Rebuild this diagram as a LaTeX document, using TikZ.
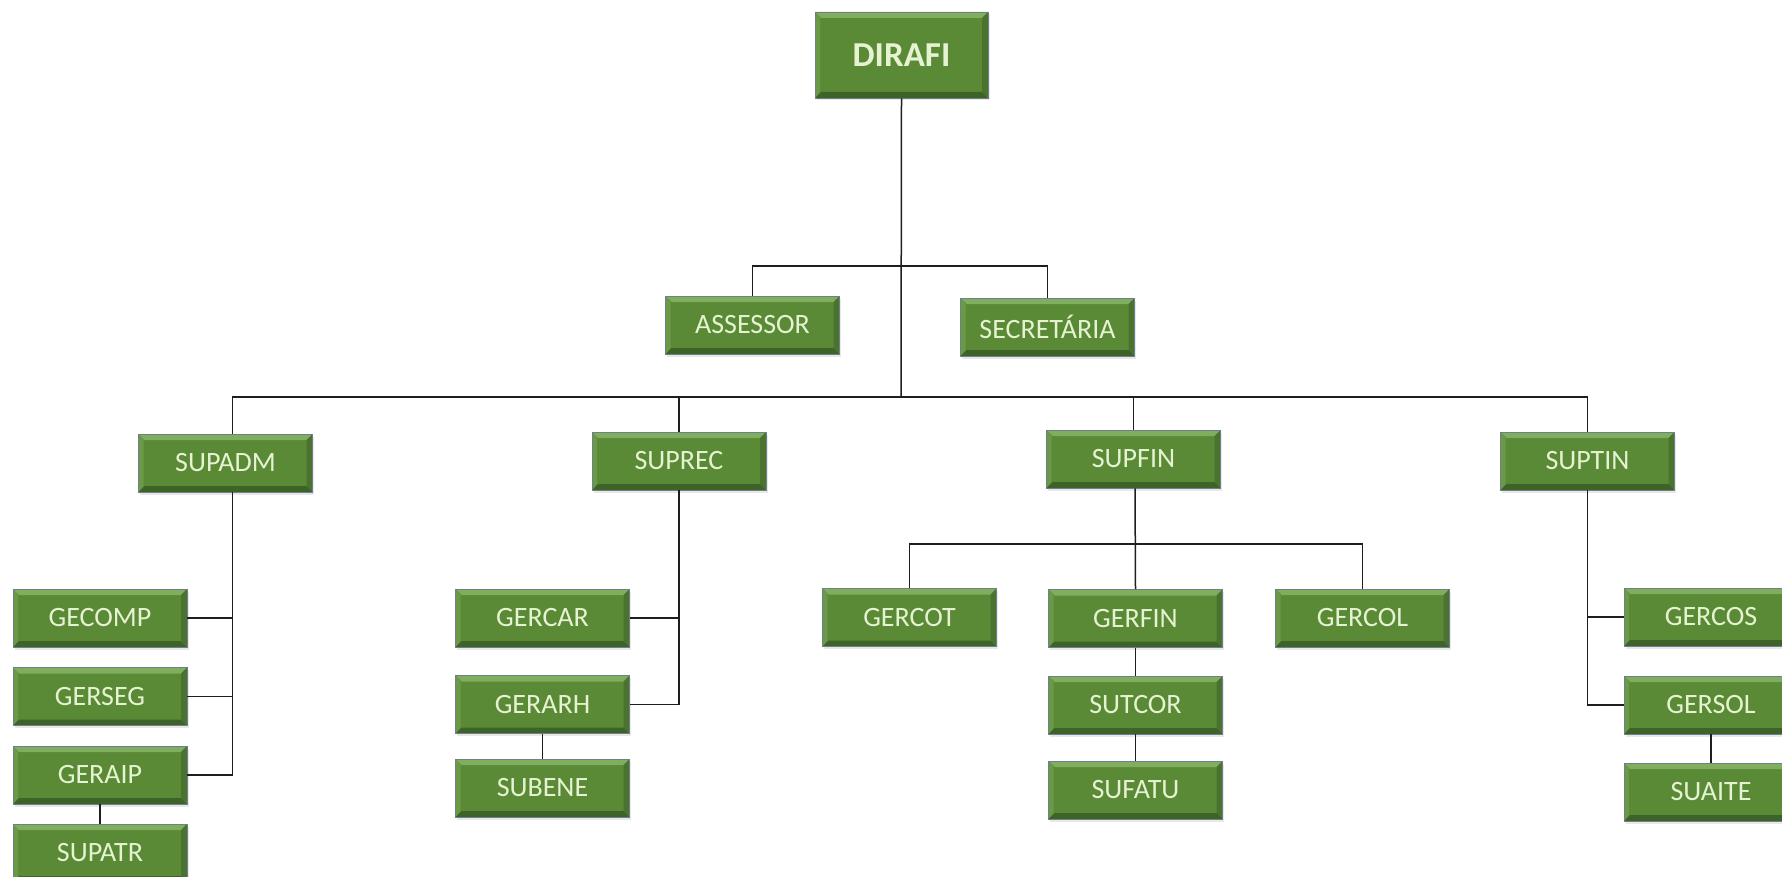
\documentclass[tikz,border=0pt]{standalone}
\usepackage{fontspec}
\setmainfont{Carlito}
\usetikzlibrary{shadows}
\definecolor{boxgreen}{HTML}{5A8A35}
\definecolor{boxtext}{HTML}{E6F3D2}
\definecolor{bvtop}{HTML}{7FAE5E}
\definecolor{bvleft}{HTML}{6A9A48}
\definecolor{bvbot}{HTML}{3E6328}
\definecolor{bvright}{HTML}{4A7330}
\definecolor{boxline}{HTML}{70808A}
\definecolor{conncol}{HTML}{1E1E1E}
\tikzset{
  orgbox/.style={draw=boxline, line width=0.8pt, fill=boxgreen, text=boxtext,
    minimum width=174pt, minimum height=58pt, inner sep=0pt,
    font=\fontsize{28}{30}\selectfont,
    drop shadow={opacity=0.18, shadow xshift=1.5pt, shadow yshift=-2.5pt},
    path picture={
      \fill[bvtop] (path picture bounding box.north west) -- (path picture bounding box.north east)
        -- ([xshift=-6pt,yshift=-6pt]path picture bounding box.north east)
        -- ([xshift=6pt,yshift=-6pt]path picture bounding box.north west) -- cycle;
      \fill[bvbot] (path picture bounding box.south west) -- (path picture bounding box.south east)
        -- ([xshift=-6pt,yshift=6pt]path picture bounding box.south east)
        -- ([xshift=6pt,yshift=6pt]path picture bounding box.south west) -- cycle;
      \fill[bvright] (path picture bounding box.north east) -- (path picture bounding box.south east)
        -- ([xshift=-6pt,yshift=6pt]path picture bounding box.south east)
        -- ([xshift=-6pt,yshift=-6pt]path picture bounding box.north east) -- cycle;
      \fill[bvleft] (path picture bounding box.north west) -- (path picture bounding box.south west)
        -- ([xshift=5pt,yshift=6pt]path picture bounding box.south west)
        -- ([xshift=5pt,yshift=-6pt]path picture bounding box.north west) -- cycle;
    }},
  topbox/.style={orgbox, minimum width=173pt, minimum height=86pt,
    font=\fontsize{35}{38}\selectfont\bfseries},
  conn/.style={draw=conncol, line width=1.5pt},
}
\begin{document}
\begin{tikzpicture}[x=1pt,y=-1pt]
\useasboundingbox (0,0) rectangle (1782,877);
\clip (0,0) rectangle (1782,877);
\fill[white] (0,0) rectangle (1782,877);

% nodes
\node[topbox] (dirafi) at (901.5,55) {DIRAFI};
\node[orgbox] (assessor) at (752.5,325) {ASSESSOR};
\node[orgbox] (secretaria) at (1047.5,327) {SECRETÁRIA};

\node[orgbox] (supadm) at (225.5,463) {SUPADM};
\node[orgbox] (suprec) at (679,461) {SUPREC};
\node[orgbox] (supfin) at (1133.5,459) {SUPFIN};
\node[orgbox] (suptin) at (1587.5,461) {SUPTIN};

\node[orgbox] (gecomp) at (100,618) {GECOMP};
\node[orgbox] (gerseg) at (100,696.5) {GERSEG};
\node[orgbox] (geraip) at (100,775) {GERAIP};
\node[orgbox] (supatr) at (100,853) {SUPATR};

\node[orgbox] (gercar) at (542.5,618) {GERCAR};
\node[orgbox] (gerarh) at (542.5,704.5) {GERARH};
\node[orgbox] (subene) at (542.5,788) {SUBENE};

\node[orgbox] (gercot) at (909.5,617.5) {GERCOT};
\node[orgbox] (gerfin) at (1135.5,618.5) {GERFIN};
\node[orgbox] (gercol) at (1362.5,618) {GERCOL};
\node[orgbox] (sutcor) at (1135.5,705) {SUTCOR};
\node[orgbox] (sufatu) at (1135.5,790) {SUFATU};

\node[orgbox] (gercos) at (1711,617) {GERCOS};
\node[orgbox] (gersol) at (1711,705) {GERSOL};
\node[orgbox] (suaite) at (1711,792) {SUAITE};

% bus coordinates
\coordinate (ab) at (901,266);
\coordinate (mb) at (901,397);
\coordinate (fb) at (1135,544);
\coordinate (admbus) at ([xshift=7pt]supadm.south);

% connectors
\draw[conn] (dirafi.south) -- (mb);
\draw[conn] (assessor.north) |- (ab) -| (secretaria.north);
\draw[conn] ([xshift=7pt]supadm.north) |- (mb) -| (suptin.north);
\draw[conn] (suprec.north) -- (suprec.north |- mb);
\draw[conn] (supfin.north) -- (supfin.north |- mb);

\draw[conn] (admbus) |- (geraip.east);
\draw[conn] (gecomp.east) -- (gecomp.east -| admbus);
\draw[conn] (gerseg.east) -- (gerseg.east -| admbus);
\draw[conn] (geraip.south) -- (supatr.north);

\draw[conn] (suprec.south) |- (gerarh.east);
\draw[conn] (gercar.east) -- (gercar.east -| suprec.south);
\draw[conn] (gerarh.south) -- (subene.north);

\draw[conn] (supfin.south -| fb) -- (gerfin.north);
\draw[conn] (gercot.north) |- (fb) -| (gercol.north);
\draw[conn] (gerfin.south) -- (sutcor.north);
\draw[conn] (sutcor.south) -- (sufatu.north);

\draw[conn] (suptin.south) |- (gersol.west);
\draw[conn] (gercos.west) -- (gercos.west -| suptin.south);
\draw[conn] (gersol.south) -- (suaite.north);
\end{tikzpicture}
\end{document}
